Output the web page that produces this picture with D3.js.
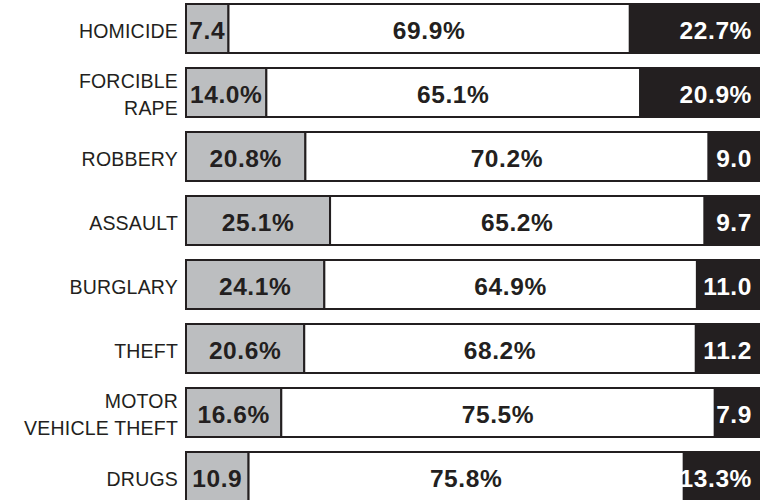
<!DOCTYPE html>
<html><head><meta charset="utf-8">
<script src="https://cdn.jsdelivr.net/npm/d3@7"></script>
<style>body{margin:0;background:#fff}svg{display:block}</style>
</head><body>
<svg id="c" width="760" height="500"></svg>
<script>
const categories = [["HOMICIDE"],["FORCIBLE","RAPE"],["ROBBERY"],["ASSAULT"],["BURGLARY"],["THEFT"],["MOTOR","VEHICLE THEFT"],["DRUGS"]];
const grayValues  = [7.4, 14.0, 20.8, 25.1, 24.1, 20.6, 16.6, 10.9];
const whiteValues = [69.9, 65.1, 70.2, 65.2, 64.9, 68.2, 75.5, 75.8];
const darkValues  = [22.7, 20.9, 9.0, 9.7, 11.0, 11.2, 7.9, 13.3];
const grayLabels  = ["7.4","14.0%","20.8%","25.1%","24.1%","20.6%","16.6%","10.9"];
const whiteLabels = ["69.9%","65.1%","70.2%","65.2%","64.9%","68.2%","75.5%","75.8%"];
const darkLabels  = ["22.7%","20.9%","9.0","9.7","11.0","11.2","7.9","13.3%"];

const svg = d3.select("#c");
const ink = "#231f20", grayFill = "#bcbec0";
const x = d3.scaleLinear().domain([0,100]).range([186,760]);
const keys = categories.map((c,i)=>i);
const y = d3.scaleBand().domain(keys).range([4,501]).paddingInner(15/64).paddingOuter(0);
const bh = y.bandwidth();

const rows = keys.map(i=>({i, g:grayValues[i], w:whiteValues[i], d:darkValues[i]}));
const row = svg.selectAll("g.row").data(rows).join("g").attr("class","row");

// segments
row.append("rect").attr("x",d=>x(0)).attr("y",d=>y(d.i)).attr("width",d=>x(d.g)-x(0)).attr("height",bh)
  .attr("fill",grayFill).attr("stroke",ink).attr("stroke-width",2);
row.append("rect").attr("x",d=>x(d.g)).attr("y",d=>y(d.i)).attr("width",d=>x(d.g+d.w)-x(d.g)).attr("height",bh)
  .attr("fill","#fff").attr("stroke",ink).attr("stroke-width",2);
row.append("rect").attr("x",d=>x(d.g+d.w)).attr("y",d=>y(d.i)-1).attr("width",d=>x(100)-x(d.g+d.w)+2).attr("height",bh+2)
  .attr("fill",ink);

const cy = d=>y(d.i)+bh/2+2;
const valFont = "'Liberation Sans', Arial, Helvetica, sans-serif";
function val(sel, xf, anchor, labels, color){
  sel.append("text").attr("x",xf).attr("y",cy).attr("dy","0.36em")
    .attr("text-anchor",anchor).attr("font-family",valFont).attr("font-weight","bold")
    .attr("font-size",24.5).attr("letter-spacing",0.6).attr("fill",color).text(d=>labels[d.i]);
}
val(row, d=>(x(0)+x(d.g))/2, "middle", grayLabels, ink);
val(row, d=>(x(d.g)+x(d.g+d.w))/2, "middle", whiteLabels, ink);
val(row, d=>752, "end", darkLabels, "#fff");

// category labels
const lab = row.append("text").attr("text-anchor","end").attr("font-family",valFont)
  .attr("font-size",19.5).attr("letter-spacing",0.2).attr("fill",ink);
lab.each(function(d){
  const lines = categories[d.i];
  const t = d3.select(this);
  const lh = 27;
  const c0 = cy(d) - (lines.length-1)*lh/2;
  lines.forEach((s,k)=>{
    t.append("tspan").attr("x",178).attr("y",c0+k*lh).attr("dy","0.36em").text(s);
  });
});
</script>
</body></html>
